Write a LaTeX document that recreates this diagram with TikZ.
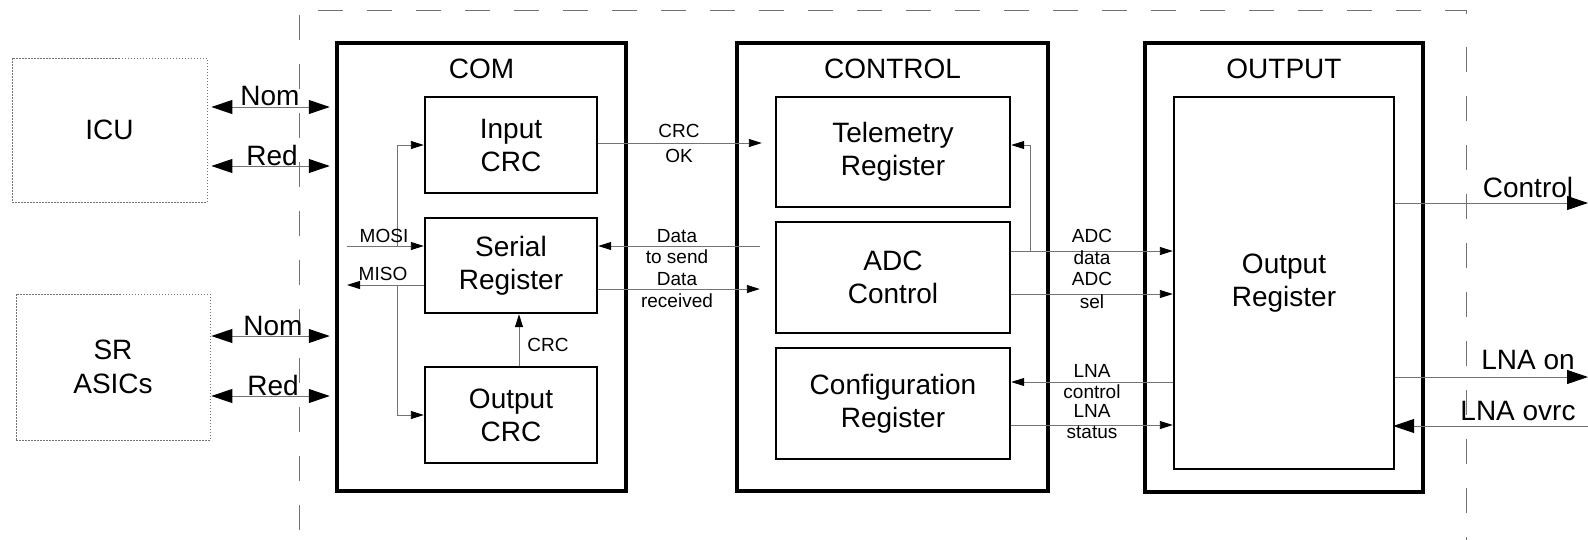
\documentclass[tikz,border=0pt]{standalone}
\usepackage{fontspec}
\setmainfont{Liberation Sans}
\usetikzlibrary{arrows.meta,calc}
\begin{document}
\begin{tikzpicture}[x=1pt,y=-1pt,
  blk/.style={draw=black,line width=2.4pt,inner sep=0pt,font=\fontsize{28}{33}\selectfont,align=center},
  outer/.style={draw=black,line width=4.5pt,inner sep=0pt},
  ext/.style={draw=black!55,dash pattern=on 1.5pt off 1.5pt,line width=0.8pt,inner sep=0pt,font=\fontsize{28}{34}\selectfont,align=center},
  wire/.style={draw=black!55,line width=0.9pt},
  sarr/.style={wire,-{Triangle[length=13pt,width=8pt,color=black]}},
  barr/.style={wire,-{Triangle[length=21pt,width=14pt,color=black]}},
  dbarr/.style={wire,{Triangle[length=21pt,width=14pt,color=black]}-{Triangle[length=21pt,width=14pt,color=black]}},
  lbl/.style={font=\fontsize{19}{21}\selectfont,inner sep=0pt,anchor=base},
  big/.style={font=\fontsize{28}{33}\selectfont,inner sep=0pt,anchor=base},
  frame/.style={draw=black!55,line width=1pt,dash pattern=on 25pt off 24pt},
]
\useasboundingbox (0,0) rectangle (1588,539);

% dashed frame
\draw[frame] (299,15) -- (299,545);
\draw[frame] (318,10) -- (1466,10) -- (1466,23);
\draw[frame] (1466,47) -- (1466,545);

% external units
\node[ext,minimum width=195pt,minimum height=144pt] (icu) at (109.5,130) {ICU};
\node[ext,minimum width=194pt,minimum height=146pt] (sr) at (113,367) {SR\\ASICs};

% COM
\node[outer,minimum width=289pt,minimum height=448pt] (com) at (481.5,267) {};
\node[big] (comt) at ($(com.north)+(0,38)$) {COM};
\node[blk,minimum width=172pt,minimum height=96pt] (incrc) at (511,145) {Input\\CRC};
\node[blk,minimum width=172pt,minimum height=95pt] (serreg) at (511,265.5) {Serial\\Register};
\node[blk,minimum width=172pt,minimum height=96pt] (outcrc) at (511,415) {Output\\CRC};

% CONTROL
\node[outer,minimum width=311pt,minimum height=448pt] (ctrl) at (892.5,267) {};
\node[big] (ctrlt) at ($(ctrl.north)+(0,38)$) {CONTROL};
\node[blk,minimum width=234pt,minimum height=110pt] (tel) at (893,152) {Telemetry\\Register};
\node[blk,minimum width=234pt,minimum height=111pt] (adc) at (893,277.5) {ADC\\Control};
\node[blk,minimum width=234pt,minimum height=111pt] (cfg) at (893,403.5) {Configuration\\Register};

% OUTPUT
\node[outer,minimum width=278pt,minimum height=449pt] (outp) at (1284,267.5) {};
\node[big] (outpt) at ($(outp.north)+(0,38)$) {OUTPUT};
\node[blk,minimum width=220pt,minimum height=372pt] (oreg) at (1284,283) {Output\\Register};

% helper coordinates
\coordinate (yNomA) at (0,107);
\coordinate (yRedA) at (0,166);
\coordinate (yNomB) at (0,336);
\coordinate (yRedB) at (0,396);
\coordinate (yMosi) at (0,246);
\coordinate (yMiso) at (0,285);
\coordinate (yCrcOk) at (0,143);
\coordinate (yTx) at (0,246);
\coordinate (yRx) at (0,289);
\coordinate (yAdcD) at (0,251);
\coordinate (yTel) at (0,145);
\coordinate (yAdcS) at (0,294);
\coordinate (yLnaC) at (0,382);
\coordinate (yLnaS) at (0,425);
\coordinate (yCtl) at (0,203);
\coordinate (yOn) at (0,377);
\coordinate (yOvrc) at (0,426);
\coordinate (xIn) at (347,0);
\coordinate (xBr) at (397,0);
\coordinate (xCrc) at (519,0);
\coordinate (xTap) at (1030,0);
\coordinate (xEdge) at (1588,0);

% external links
\draw[dbarr,shorten <=4pt,shorten >=5pt] (icu.east |- yNomA) -- (com.west |- yNomA);
\draw[dbarr,shorten <=4pt,shorten >=5pt] (icu.east |- yRedA) -- (com.west |- yRedA);
\draw[dbarr,shorten <=1pt,shorten >=5pt] (sr.east |- yNomB) -- (com.west |- yNomB);
\draw[dbarr,shorten <=1pt,shorten >=5pt] (sr.east |- yRedB) -- (com.west |- yRedB);

% COM internals
\draw[sarr] (xIn |- yMosi) -- (serreg.west |- yMosi);
\draw[sarr] (xBr |- yMosi) |- (incrc.west);
\draw[sarr] (serreg.west |- yMiso) -- (xIn |- yMiso);
\draw[sarr] (xBr |- yMiso) |- (outcrc.west);
\draw[sarr] (outcrc.north -| xCrc) -- (serreg.south -| xCrc);

% COM <-> CONTROL
\draw[sarr,shorten >=13pt] (incrc.east |- yCrcOk) -- (tel.west |- yCrcOk);
\draw[sarr,shorten <=15pt] (adc.west |- yTx) -- (serreg.east |- yTx);
\draw[sarr,shorten >=15pt] (serreg.east |- yRx) -- (adc.west |- yRx);

% CONTROL <-> OUTPUT
\draw[sarr] (adc.east |- yAdcD) -- (oreg.west |- yAdcD);
\draw[sarr] (xTap |- yAdcD) |- (tel.east |- yTel);
\draw[sarr] (adc.east |- yAdcS) -- (oreg.west |- yAdcS);
\draw[sarr] (oreg.west |- yLnaC) -- (cfg.east |- yLnaC);
\draw[sarr] (cfg.east |- yLnaS) -- (oreg.west |- yLnaS);

% outputs
\draw[barr] (oreg.east |- yCtl) -- (xEdge |- yCtl);
\draw[barr] (oreg.east |- yOn) -- (xEdge |- yOn);
\draw[barr,shorten >=-2pt] (xEdge |- yOvrc) -- (oreg.east |- yOvrc);

% labels
\node[big] (nomA) at (270,105) {Nom};
\node[big] (redA) at (272,165) {Red};
\node[big] (nomB) at (273,335) {Nom};
\node[big] (redB) at (273,395) {Red};
\node[lbl] (mosi) at (384,242) {MOSI};
\node[lbl] (miso) at (383,280) {MISO};
\node[lbl] (crcl) at (548,351) {CRC};
\node[lbl] (crcok1) at (679,137) {CRC};
\node[lbl] (crcok2) at (679,162) {OK};
\node[lbl] (tx1) at (677,242) {Data};
\node[lbl] (tx2) at (677,263) {to send};
\node[lbl] (rx1) at (677,285) {Data};
\node[lbl] (rx2) at (677,307) {received};
\node[lbl] (ad1) at (1092,242) {ADC};
\node[lbl] (ad2) at (1092,264) {data};
\node[lbl] (as1) at (1092,285) {ADC};
\node[lbl] (as2) at (1092,308) {sel};
\node[lbl] (lc1) at (1092,377) {LNA};
\node[lbl] (lc2) at (1092,398) {control};
\node[lbl] (ls1) at (1092,417) {LNA};
\node[lbl] (ls2) at (1092,438) {status};
\node[big] (ctll) at (1528,197) {Control};
\node[big] (onl) at (1528,369) {LNA on};
\node[big] (ovl) at (1518,420) {LNA ovrc};
\end{tikzpicture}
\end{document}
